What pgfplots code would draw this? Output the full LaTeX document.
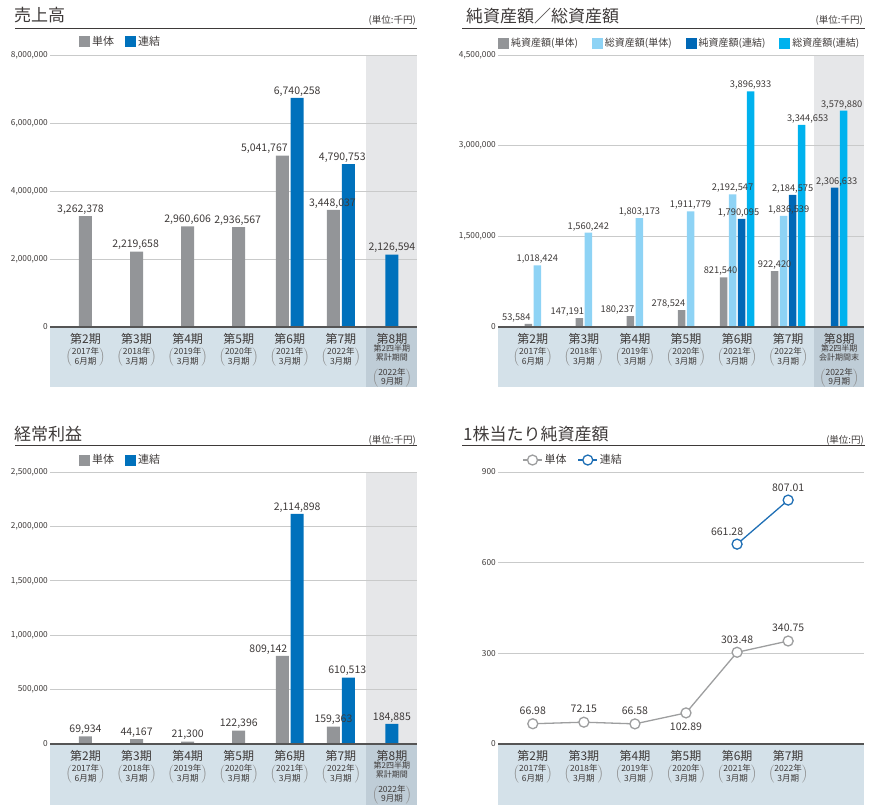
\documentclass[border=0pt]{standalone}
\usepackage{fontspec}
\setmainfont{Noto Sans CJK JP}
\usepackage{pgfplots}
\pgfplotsset{compat=1.18}

\definecolor{txt}{HTML}{3E3A39}
\definecolor{bgray}{HTML}{939598}
\definecolor{bblue}{HTML}{0071BC}
\definecolor{lblue}{HTML}{8ED3F5}
\definecolor{dblue}{HTML}{0068B6}
\definecolor{cyanb}{HTML}{00B2EE}
\definecolor{bandc}{HTML}{D4E1E9}
\definecolor{banddc}{HTML}{BFCDD7}
\definecolor{shadec}{HTML}{E6E7E9}
\definecolor{gridc}{HTML}{C9CACA}
\definecolor{axc}{HTML}{555555}
\definecolor{lgray}{HTML}{9D9E9F}
\definecolor{lblue2}{HTML}{1F6FB5}
\definecolor{pgray}{HTML}{8A8A8A}

\newcommand{\pfont}{\fontsize{12}{13}\selectfont}
\newcommand{\sfont}{\fontsize{8.5}{8.8}\selectfont}
\newcommand{\vfont}{\fontsize{10.5}{10.5}\selectfont}
\newcommand{\vfontb}{\fontsize{9.3}{9.3}\selectfont}
\newcommand{\paren}[2]{{\sfont\color{pgray}$\left(\vcenter{\hbox{\color{txt}\begin{tabular}{@{}c@{}}#1年\\#2月期\end{tabular}}}\right)$}}
\newcommand{\plab}[3]{\begin{tabular}{@{}c@{}}第#1期\\[-0.5pt]\paren{#2}{#3}\end{tabular}}
\newcommand{\plabe}[2]{\begin{tabular}{@{}c@{}}第8期\\[-3pt]{\fontsize{8}{8.6}\selectfont\begin{tabular}{@{}c@{}}#1\\#2\end{tabular}}\\[8pt]\paren{2022}{9}\end{tabular}}

\pgfplotsset{
  panel/.style={
    scale only axis, anchor=south west,
    width=366pt, height=272pt,
    axis line style={draw=none},
    major tick length=0pt,
    scaled y ticks=false,
    ymajorgrids, grid style={gridc, line width=0.9pt},
    ymin=0,
    xtick={0,...,6},
    xticklabel style={font=\pfont, text=txt, anchor=north, inner sep=0pt, yshift=-6.5pt},
    yticklabel style={font=\fontsize{8.3}{8.3}\selectfont, text=txt, anchor=east, inner sep=0pt, xshift=-2pt},
    clip=false,
    legend style={draw=none, fill=none, inner sep=0pt, text=txt, legend columns=-1,
      /tikz/every even column/.append style={column sep=9pt}},
    legend cell align=left,
  },
  bars/.style={ybar, bar shift=0pt, draw=none, point meta=explicit symbolic, nodes near coords,
    visualization depends on={value \thisrow{dx}\as\dx},
    every node near coord/.append style={anchor=south, inner sep=1.5pt, xshift=\dx*1pt, text=txt},
    legend image code/.code={\fill[##1] (0pt,-5.5pt) rectangle (11pt,5.5pt);}},
  lineplot/.style={line width=1.3pt, mark=*, mark size=5pt,
    mark options={fill=white, draw=#1, line width=1.3pt}, color=#1,
    point meta=explicit symbolic, nodes near coords,
    visualization depends on={value \thisrow{dx}\as\dx},
    visualization depends on={value \thisrow{dy}\as\dy},
    every node near coord/.append style={anchor=center, inner sep=0pt, xshift=\dx*1pt, yshift=\dy*1pt, text=txt, font=\vfont},
    legend image code/.code={\draw[mark repeat=2,mark phase=2,##1] plot coordinates {(0pt,0pt) (9.5pt,0pt) (19pt,0pt)};}},
}

\begin{document}
\begin{tikzpicture}
\path[use as bounding box] (0,0) rectangle (880pt,810pt);
% backgrounds
\fill[bandc] (50pt,483pt) rectangle (416.5pt,423pt);
\fill[banddc] (366.4pt,483pt) rectangle (416.5pt,423pt);
\fill[shadec] (366.4pt,483pt) rectangle (416.5pt,755pt);
\fill[bandc] (498pt,483pt) rectangle (864pt,423pt);
\fill[banddc] (813.7pt,483pt) rectangle (864pt,423pt);
\fill[shadec] (813.7pt,483pt) rectangle (864pt,755pt);
\fill[bandc] (50pt,66pt) rectangle (416.5pt,5pt);
\fill[banddc] (366.4pt,66pt) rectangle (416.5pt,5pt);
\fill[shadec] (366.4pt,66pt) rectangle (416.5pt,338pt);
\fill[bandc] (498pt,66pt) rectangle (864pt,5pt);

% titles
\begin{scope}[every node/.style={inner sep=0pt, text=txt}]
\node[anchor=west, font=\fontsize{17}{17}\selectfont] at (14pt,794.5pt) {売上高};
\node[anchor=east, font=\fontsize{9.5}{9.5}\selectfont] at (416pt,789.5pt) {(単位:千円)};
\draw[txt, line width=1pt] (15pt,781pt) -- (417pt,781pt);
\node[anchor=west, font=\fontsize{17}{17}\selectfont] at (466pt,794pt) {純資産額／総資産額};
\node[anchor=east, font=\fontsize{9.5}{9.5}\selectfont] at (863pt,789.5pt) {(単位:千円)};
\draw[txt, line width=1pt] (462pt,781pt) -- (865pt,781pt);
\node[anchor=west, font=\fontsize{17}{17}\selectfont] at (14pt,376pt) {経常利益};
\node[anchor=east, font=\fontsize{9.5}{9.5}\selectfont] at (416pt,370pt) {(単位:千円)};
\draw[txt, line width=1pt] (15pt,364pt) -- (417pt,364pt);
\node[anchor=west, font=\fontsize{17}{17}\selectfont] at (463pt,376pt) {1株当たり純資産額};
\node[anchor=east, font=\fontsize{9.5}{9.5}\selectfont] at (864pt,370pt) {(単位:円)};
\draw[txt, line width=1pt] (462pt,364pt) -- (865pt,364pt);
\end{scope}

% ---------- Panel 1: 売上高
\begin{axis}[panel, at={(50pt,483pt)}, width=366.5pt, xmin=-0.695, xmax=6.481, ymax=8000000,
  ytick={0,2000000,4000000,6000000,8000000},
  yticklabels={0,{2,000,000},{4,000,000},{6,000,000},{8,000,000}},
  xticklabels={{\plab{2}{2017}{6}},{\plab{3}{2018}{3}},{\plab{4}{2019}{3}},{\plab{5}{2020}{3}},{\plab{6}{2021}{3}},{\plab{7}{2022}{3}},{\plabe{第2四半期}{累計期間}}},
  legend style={at={(0.079,1.048)}, anchor=west, font=\fontsize{11}{11}\selectfont},
]
\addplot[bars, fill=bgray, bar width=13pt, every node near coord/.append style={font=\vfont}]
 table[x expr=\thisrow{c}+\thisrow{o}, y=y, meta=lab] {
c o y dx lab
0 0 3262378 -5 3,262,378
1 0 2219658 -1 2,219,658
2 0 2960606 0 2,960,606
3 0 2936567 -1 2,936,567
4 -0.145 5041767 -18 5,041,767
5 -0.145 3448037 -1 3,448,037
};
\addlegendentry{単体}
\addplot[bars, fill=bblue, bar width=13pt, every node near coord/.append style={font=\vfont}]
 table[x expr=\thisrow{c}+\thisrow{o}, y=y, meta=lab] {
c o y dx lab
4 0.145 6740258 0 6,740,258
5 0.145 4790753 -6 4,790,753
6 0 2126594 0 2,126,594
};
\addlegendentry{連結}
\draw[axc, line width=1.6pt] (rel axis cs:0,0) -- (rel axis cs:1,0);
\end{axis}

% ---------- Panel 2: 純資産額／総資産額
\begin{axis}[panel, at={(498pt,483pt)}, width=366pt, xmin=-0.681, xmax=6.485, ymax=4500000,
  ytick={0,1500000,3000000,4500000},
  yticklabels={0,{1,500,000},{3,000,000},{4,500,000}},
  xticklabels={{\plab{2}{2017}{6}},{\plab{3}{2018}{3}},{\plab{4}{2019}{3}},{\plab{5}{2020}{3}},{\plab{6}{2021}{3}},{\plab{7}{2022}{3}},{\plabe{第2四半期}{会計期間末}}},
  legend style={at={(0,1.044)}, anchor=west, font=\fontsize{10}{10}\selectfont,
    /tikz/every even column/.append style={column sep=12pt}},
]
\addplot[bars, fill=bgray, bar width=7.5pt, every node near coord/.append style={font=\vfontb}]
 table[x expr=\thisrow{c}+\thisrow{o}, y=y, meta=lab] {
c o y dx lab
0 -0.088 53584 -12 53,584
1 -0.088 147191 -12 147,191
2 -0.088 180237 -13 180,237
3 -0.088 278524 -13 278,524
4 -0.265 821540 -3 821,540
5 -0.265 922420 0 922,420
};
\addlegendentry{純資産額(単体)}
\addplot[bars, fill=lblue, bar width=7.5pt, every node near coord/.append style={font=\vfontb}]
 table[x expr=\thisrow{c}+\thisrow{o}, y=y, meta=lab] {
c o y dx lab
0 0.088 1018424 0 1,018,424
1 0.088 1560242 0 1,560,242
2 0.088 1803173 0 1,803,173
3 0.088 1911779 0 1,911,779
4 -0.088 2192547 0 2,192,547
5 -0.088 1836539 5 1,836,539
};
\addlegendentry{総資産額(単体)}
\addplot[bars, fill=dblue, bar width=7.5pt, every node near coord/.append style={font=\vfontb}]
 table[x expr=\thisrow{c}+\thisrow{o}, y=y, meta=lab] {
c o y dx lab
4 0.088 1790095 -3 1,790,095
5 0.088 2184575 0 2,184,575
6 -0.088 2306633 2 2,306,633
};
\addlegendentry{純資産額(連結)}
\addplot[bars, fill=cyanb, bar width=7.5pt, every node near coord/.append style={font=\vfontb}]
 table[x expr=\thisrow{c}+\thisrow{o}, y=y, meta=lab] {
c o y dx lab
4 0.265 3896933 0 3,896,933
5 0.265 3344653 6 3,344,653
6 0.088 3579880 -2 3,579,880
};
\addlegendentry{総資産額(連結)}
\draw[axc, line width=1.6pt] (rel axis cs:0,0) -- (rel axis cs:1,0);
\end{axis}

% ---------- Panel 3: 経常利益
\begin{axis}[panel, at={(50pt,66pt)}, width=366.5pt, xmin=-0.695, xmax=6.481, ymax=2500000,
  ytick={0,500000,1000000,1500000,2000000,2500000},
  yticklabels={0,{500,000},{1,000,000},{1,500,000},{2,000,000},{2,500,000}},
  xticklabels={{\plab{2}{2017}{6}},{\plab{3}{2018}{3}},{\plab{4}{2019}{3}},{\plab{5}{2020}{3}},{\plab{6}{2021}{3}},{\plab{7}{2022}{3}},{\plabe{第2四半期}{累計期間}}},
  legend style={at={(0.079,1.044)}, anchor=west, font=\fontsize{11}{11}\selectfont},
]
\addplot[bars, fill=bgray, bar width=13pt, every node near coord/.append style={font=\vfont}]
 table[x expr=\thisrow{c}+\thisrow{o}, y=y, meta=lab] {
c o y dx lab
0 0 69934 0 69,934
1 0 44167 0 44,167
2 0 21300 0 21,300
3 0 122396 0 122,396
4 -0.145 809142 -14 809,142
5 -0.145 159363 0 159,363
};
\addlegendentry{単体}
\addplot[bars, fill=bblue, bar width=13pt, every node near coord/.append style={font=\vfont}]
 table[x expr=\thisrow{c}+\thisrow{o}, y=y, meta=lab] {
c o y dx lab
4 0.145 2114898 0 2,114,898
5 0.145 610513 -1 610,513
6 0 184885 0 184,885
};
\addlegendentry{連結}
\draw[axc, line width=1.6pt] (rel axis cs:0,0) -- (rel axis cs:1,0);
\end{axis}

% ---------- Panel 4: 1株当たり純資産額
\begin{axis}[panel, at={(498pt,66pt)}, width=366pt, xmin=-0.681, xmax=6.485, ymax=900,
  ytick={0,300,600,900}, yticklabels={0,300,600,900},
  xtick={0,...,5},
  xticklabels={{\plab{2}{2017}{6}},{\plab{3}{2018}{3}},{\plab{4}{2019}{3}},{\plab{5}{2020}{3}},{\plab{6}{2021}{3}},{\plab{7}{2022}{3}}},
  legend style={at={(0.066,1.044)}, anchor=west, font=\fontsize{11}{11}\selectfont},
]
\addplot[lineplot=lgray] table[x=c, y=y, meta=lab] {
c y dx dy lab
0 66.98 0 13 66.98
1 72.15 0 13 72.15
2 66.58 0 13 66.58
3 102.89 0 -14 102.89
4 303.48 0 13 303.48
5 340.75 0 13 340.75
};
\addlegendentry{単体}
\addplot[lineplot=lblue2] table[x=c, y=y, meta=lab] {
c y dx dy lab
4 661.28 -10 12.5 661.28
5 807.01 0 12.5 807.01
};
\addlegendentry{連結}
\draw[axc, line width=1.6pt] (rel axis cs:0,0) -- (rel axis cs:1,0);
\end{axis}
\end{tikzpicture}
\end{document}
